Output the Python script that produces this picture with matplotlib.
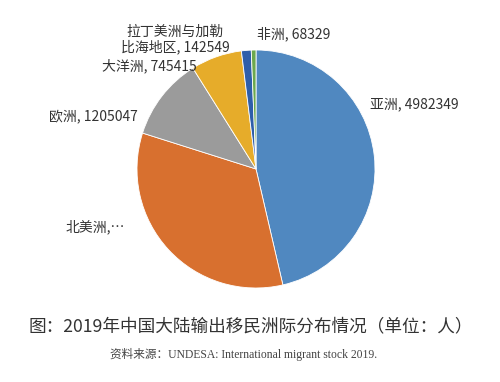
import matplotlib
matplotlib.use("Agg")
import matplotlib.pyplot as plt

plt.rcParams['font.family'] = ['Noto Sans CJK SC', 'DejaVu Sans']

regions = ["亚洲", "北美洲", "欧洲", "大洋洲", "拉丁美洲与加勒比海地区", "非洲"]
values = [4982349, 3600000, 1205047, 745415, 142549, 68329]
colors = ["#5088C0", "#D8702F", "#9B9B9B", "#E6AC2A", "#2E5EAA", "#6CA84E"]
label_texts = ["亚洲, 4982349", "北美洲,…", "欧洲, 1205047", "大洋洲, 745415",
               "拉丁美洲与加勒\n比海地区, 142549", "非洲, 68329"]
title = "图：2019年中国大陆输出移民洲际分布情况（单位：人）"
source = "资料来源：UNDESA: International migrant stock 2019."

W, H = 500, 382
fig = plt.figure(figsize=(W / 100, H / 100), dpi=100)
fig.patch.set_facecolor("white")

cx, cy, r = 256, 169, 119
ax = fig.add_axes([(cx - r) / W, 1 - (cy + r) / H, 2 * r / W, 2 * r / H])
ax.pie(values, colors=colors, startangle=90, counterclock=False, radius=1,
       wedgeprops=dict(edgecolor="white", linewidth=0.6))
ax.set_xlim(-1, 1)
ax.set_ylim(-1, 1)
ax.set_aspect("equal")
ax.axis("off")

label_pos = [(0.96, 0.54, "left"), (-1.10, -0.49, "right"), (-0.99, 0.44, "right"),
             (-0.50, 0.87, "right"), (-0.68, 1.09, "center"), (0.01, 1.135, "left")]
for txt, (x, y, ha) in zip(label_texts, label_pos):
    ax.text(x, y, txt, ha=ha, va="center", fontsize=10, color="#333333",
            multialignment="center", linespacing=1.05, clip_on=False)

fig.text(0.502, 1 - 326 / H, title, ha="center", va="center", fontsize=12.7, color="#333333")
fig.text(0.488, 1 - 354 / H, source, ha="center", va="center", fontsize=8.4, color="#444444",
         family=['Liberation Serif', 'Noto Sans CJK SC'])

fig.savefig("out.png", dpi=100, facecolor="white")
